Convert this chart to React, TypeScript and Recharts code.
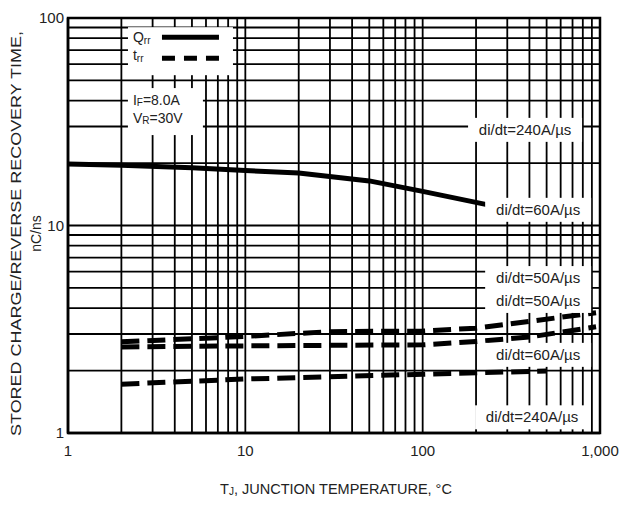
import React from 'react';
import { LineChart, Line, XAxis, YAxis, CartesianGrid, ReferenceDot, ReferenceArea } from 'recharts';

// grid / tick values (log axes)
const xTicks = [1, 2, 3, 4, 5, 6, 7, 8, 9, 10, 20, 30, 40, 50, 60, 70, 80, 90, 100, 200, 300, 400, 500, 600, 700, 800, 900, 1000];
const yTicks = [1, 2, 3, 4, 5, 6, 7, 8, 9, 10, 20, 30, 40, 50, 60, 70, 80, 90, 100];
const xLabels: Record<number, string> = { 1: '1', 10: '10', 100: '100', 1000: '1,000' };
const yLabels: Record<number, string> = { 1: '1', 10: '10', 100: '100' };

// Qrr (solid)
const qrr = [
  { x: 1, y: 19.8 }, { x: 2, y: 19.5 }, { x: 5, y: 19.0 }, { x: 10, y: 18.4 },
  { x: 20, y: 17.9 }, { x: 50, y: 16.4 }, { x: 100, y: 14.6 }, { x: 230, y: 12.6 },
];
// trr (dashed)
const trrUpper = [
  { x: 2, y: 2.75 }, { x: 10, y: 2.92 }, { x: 30, y: 3.08 }, { x: 100, y: 3.1 },
  { x: 200, y: 3.2 }, { x: 400, y: 3.45 }, { x: 950, y: 3.8 },
];
const trrMiddle = [
  { x: 2, y: 2.6 }, { x: 10, y: 2.63 }, { x: 100, y: 2.66 }, { x: 200, y: 2.76 },
  { x: 400, y: 2.9 }, { x: 950, y: 3.25 },
];
const trrLower = [
  { x: 2, y: 1.72 }, { x: 10, y: 1.82 }, { x: 100, y: 1.92 }, { x: 500, y: 1.99 },
];

const notes = [
  { x: 378, y: 28.9, text: 'di/dt=240A/\u00b5s' },
  { x: 448, y: 11.9, text: 'di/dt=60A/\u00b5s' },
  { x: 448, y: 5.58, text: 'di/dt=50A/\u00b5s' },
  { x: 448, y: 4.33, text: 'di/dt=50A/\u00b5s' },
  { x: 448, y: 2.38, text: 'di/dt=60A/\u00b5s' },
  { x: 414, y: 1.19, text: 'di/dt=240A/\u00b5s' },
];

const FONT = '"Liberation Sans", Arial, sans-serif';

function NoteShape({ cx, cy, text }: any) {
  const w = text.length * 8 + 10;
  return (
    <g>
      <rect x={cx - w / 2} y={cy - 12} width={w} height={24} fill="#fff" />
      <text x={cx} y={cy + 5} textAnchor="middle" fontSize={15} fontFamily={FONT} fill="#222">{text}</text>
    </g>
  );
}

function LegendShape({ cx, cy }: any) {
  return (
    <g fontFamily={FONT} fill="#222">
      <rect x={cx - 52} y={cy - 24} width={105} height={48} fill="#fff" />
      <text x={cx - 47} y={cy - 9} fontSize={14}>Q<tspan fontSize={10} dy={2}>rr</tspan></text>
      <line x1={cx - 18} x2={cx + 39} y1={cy - 14} y2={cy - 14} stroke="#000" strokeWidth={5} />
      <text x={cx - 47} y={cy + 9} fontSize={14}>t<tspan fontSize={10} dy={2}>rr</tspan></text>
      <line x1={cx - 18} x2={cx + 39} y1={cy + 7} y2={cy + 7} stroke="#000" strokeWidth={5} strokeDasharray="13 9" />
    </g>
  );
}

function CondShape({ cx, cy }: any) {
  return (
    <g fontFamily={FONT} fill="#222" fontSize={14}>
      <rect x={cx - 37} y={cy - 23} width={75} height={47} fill="#fff" />
      <text x={cx - 32} y={cy - 6}>I<tspan fontSize={10} dy={1}>F</tspan><tspan dy={-1}>=8.0A</tspan></text>
      <text x={cx - 32} y={cy + 12}>V<tspan fontSize={10} dy={1}>R</tspan><tspan dy={-1}>=30V</tspan></text>
    </g>
  );
}

function YTitle({ viewBox }: any) {
  const cy = viewBox.y + viewBox.height / 2 + 8;
  return (
    <g fontFamily={FONT} fontSize={14} fill="#222">
      <text transform={`translate(${viewBox.x + 13},${cy}) rotate(-90)`} textAnchor="middle" textLength={405} lengthAdjust="spacingAndGlyphs">
        STORED CHARGE/REVERSE RECOVERY TIME,
      </text>
      <text transform={`translate(${viewBox.x + 33},${cy}) rotate(-90)`} textAnchor="middle">nC/ns</text>
    </g>
  );
}

function XTitle({ viewBox }: any) {
  return (
    <text x={viewBox.x + viewBox.width / 2 + 2} y={486} textAnchor="middle" fontFamily={FONT} fontSize={14.5} fill="#222">
      T<tspan fontSize={10} dy={1}>J</tspan><tspan dy={-1}>, JUNCTION TEMPERATURE, °C</tspan>
    </text>
  );
}

export default function App() {
  const tick = { fill: '#222', fontSize: 15, fontFamily: FONT };
  return (
    <LineChart width={634} height={507} margin={{ top: 10, right: 42, bottom: 0, left: 0 }}>
      <CartesianGrid stroke="#000" strokeWidth={1.8} />
      <XAxis type="number" dataKey="x" scale="log" domain={[1, 1000]} ticks={xTicks} allowDataOverflow
        height={82} tickLine={false} axisLine={{ stroke: '#000', strokeWidth: 2.5 }} tick={tick} tickMargin={6}
        tickFormatter={(v: number) => xLabels[v] ?? ''} interval={0} label={{ content: XTitle }} />
      <YAxis type="number" dataKey="y" scale="log" domain={[1, 100]} ticks={yTicks} allowDataOverflow
        width={60} tickLine={false} tickSize={2} axisLine={{ stroke: '#000', strokeWidth: 2.5 }} tick={tick} tickMargin={2}
        tickFormatter={(v: number) => yLabels[v] ?? ''} interval={0} label={{ content: YTitle }} />
      <ReferenceArea x1={1} x2={1000} y1={1} y2={100} fill="none" stroke="#000" strokeWidth={2.5} />
      <ReferenceDot x={4.28} y={69.2} r={1} shape={(p: any) => <LegendShape {...p} />} />
      <ReferenceDot x={3.52} y={35.6} r={1} shape={(p: any) => <CondShape {...p} />} />
      {notes.map((n, i) => (
        <ReferenceDot key={i} x={n.x} y={n.y} r={1} shape={(p: any) => <NoteShape {...p} text={n.text} />} />
      ))}
      <Line data={qrr} dataKey="y" stroke="#000" strokeWidth={5} dot={false} isAnimationActive={false} type="linear" />
      <Line data={trrUpper} dataKey="y" stroke="#000" strokeWidth={5} strokeDasharray="18 8" dot={false} isAnimationActive={false} type="linear" />
      <Line data={trrMiddle} dataKey="y" stroke="#000" strokeWidth={5} strokeDasharray="18 8" dot={false} isAnimationActive={false} type="linear" />
      <Line data={trrLower} dataKey="y" stroke="#000" strokeWidth={5} strokeDasharray="18 8" dot={false} isAnimationActive={false} type="linear" />
    </LineChart>
  );
}
